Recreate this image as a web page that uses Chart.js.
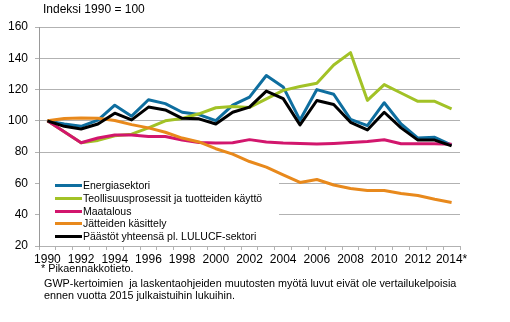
<!DOCTYPE html>
<html>
<head>
<meta charset="utf-8">
<script src="https://cdn.jsdelivr.net/npm/chart.js@4"></script>
<style>
  body { margin: 0; background: #fff; }
  #wrap { position: relative; width: 510px; height: 322px; font-family: "Liberation Sans", Arial, sans-serif; color: #000; }
  #wrap canvas { position: absolute; left: 0; top: 0; }
  .txt { position: absolute; white-space: pre; }
  #legend { position: absolute; left: 40px; top: 176px; width: 239px; height: 67px; background: #fff; }
  .row { position: absolute; left: 0; height: 12px; font-size: 10.5px; line-height: 12px; white-space: nowrap; }
  .row i { position: absolute; left: 15px; top: 5px; width: 27px; height: 3px; }
  .row span { position: absolute; left: 43px; top: 0; }
</style>
</head>
<body>
<div id="wrap">
  <canvas id="chart" width="510" height="322"></canvas>
  <div class="txt" style="left:43px; top:2px; font-size:12px;">Indeksi 1990 = 100</div>
  <div id="legend"></div>
  <div class="txt" style="left:41px; top:262px; font-size:10.8px;">* Pikaennakkotieto.</div>
  <div class="txt" style="left:44px; top:277px; font-size:10.8px;">GWP-kertoimien  ja laskentaohjeiden muutosten myötä luvut eivät ole vertailukelpoisia</div>
  <div class="txt" style="left:44px; top:289px; font-size:10.8px;">ennen vuotta 2015 julkaistuihin lukuihin.</div>
</div>
<script>
const years = ['1990','1991','1992','1993','1994','1995','1996','1997','1998','1999','2000','2001','2002',
               '2003','2004','2005','2006','2007','2008','2009','2010','2011','2012','2013','2014*'];

const energia    = [100, 98, 96.5, 100.5, 110, 103, 113.5, 111, 105.5, 104, 100.2, 110, 115.2, 129, 121.7, 100.5, 120, 117, 101, 97, 111.6, 98, 89, 89.5, 84.5];
const teollisuus = [100, 93, 86, 87.5, 90.5, 91.5, 95.5, 100, 101.5, 104.5, 108.4, 109.2, 108.6, 114, 119.5, 122, 124, 135.7, 143.6, 113.1, 123.2, 117.8, 112.5, 112.5, 107.7];
const maatalous  = [100, 93, 86, 89, 91, 91, 90, 90, 87.8, 86.2, 85.8, 86, 88, 86.5, 85.8, 85.6, 85.2, 85.6, 86.2, 86.8, 87.9, 85.4, 85.4, 85.4, 85];
const jatteet    = [100, 101.5, 101.9, 101.7, 100.2, 97.6, 95.5, 92.7, 89, 86.5, 82.2, 78.7, 74, 70.4, 65.5, 60.6, 62.5, 59, 56.8, 55.5, 55.5, 53.6, 52.3, 49.9, 47.8];
const paastot    = [100, 96.5, 94.8, 98, 104.9, 100.6, 108.8, 107, 101.6, 101.3, 98, 105.5, 108.8, 119, 114.2, 97.4, 113, 110.5, 99.1, 94.2, 105.5, 95.5, 87.7, 87.7, 84];

const seriesNames  = ['Energiasektori', 'Teollisuusprosessit ja tuotteiden käyttö', 'Maatalous', 'Jätteiden käsittely', 'Päästöt yhteensä pl. LULUCF-sektori'];
const seriesData   = [energia, teollisuus, maatalous, jatteet, paastot];
const seriesColors = ['#0e6e9f', '#a2c226', '#d2166d', '#e8891c', '#000000'];

const gridGray = '#b2b2b2';

const datasets = seriesNames.map((name, i) => ({
    label: name,
    data: seriesData[i],
    borderColor: seriesColors[i],
    backgroundColor: seriesColors[i],
    borderWidth: 3,
    pointRadius: 0,
    tension: 0,
    borderJoinStyle: 'round',
    order: seriesNames.length - i   // later series on top
}));

new Chart(document.getElementById('chart'), {
    type: 'line',
    data: { labels: years, datasets },
    options: {
        responsive: false,
        animation: false,
        layout: { padding: { top: 27, right: 50, left: 0, bottom: 54 } },
        plugins: { legend: { display: false }, tooltip: { enabled: false } },
        scales: {
            x: {
                offset: true,
                grid: { offset: true, drawOnChartArea: false, tickLength: 4, color: gridGray },
                border: { color: gridGray },
                ticks: {
                    autoSkip: false, maxRotation: 0, padding: 2, color: '#000',
                    font: { family: "'Liberation Sans', Arial", size: 12 },
                    callback: (v, i) => i % 2 === 0 ? years[i] : ''
                },
                afterFit: (s) => { s.height = 22; }
            },
            y: {
                min: 20, max: 160,
                ticks: { stepSize: 20, padding: 7, color: '#000', font: { family: "'Liberation Sans', Arial", size: 12 } },
                grid: { color: gridGray, tickLength: 4 },
                border: { color: '#999999' },
                afterFit: (s) => { s.width = 39; }
            }
        }
    }
});

// legend drawn as html overlay with white box over the gridlines
const legend = document.getElementById('legend');
seriesNames.forEach((name, i) => {
    const row = document.createElement('div');
    row.className = 'row';
    row.style.top = (3 + i * 12.75) + 'px';
    row.innerHTML = '<i style="background:' + seriesColors[i] + '"></i><span>' + name + '</span>';
    legend.appendChild(row);
});
</script>
</body>
</html>
